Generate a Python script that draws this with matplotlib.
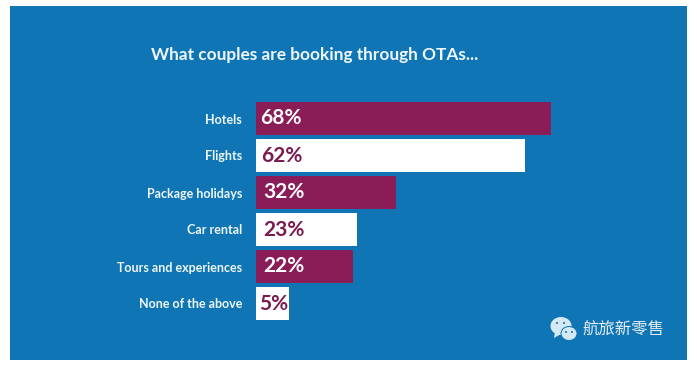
import matplotlib
matplotlib.use('Agg')
import matplotlib.pyplot as plt
from matplotlib.patches import Rectangle, Ellipse, Circle, Polygon

categories = ['Hotels', 'Flights', 'Package holidays', 'Car rental', 'Tours and experiences', 'None of the above']
# bar lengths as drawn, the last bar is longer than its 5% label
bar_lengths = [68, 62, 32.2, 23.2, 22.4, 7.5]
pct_labels = ['68%', '62%', '32%', '23%', '22%', '5%']
title = 'What couples are booking through OTAs...'
watermark = '航旅新零售'

W, H = 697, 368
BLUE = '#0F75B5'
PURPLE = '#8A1D57'
WHITE = '#FFFFFF'
DARK = '#7A1A4E'
ICON = '#D5E9F5'

plt.rcParams['font.family'] = ['Lato', 'DejaVu Sans']

fig = plt.figure(figsize=(W / 100, H / 100), dpi=100, facecolor='white')

# pixel coordinates over the whole figure for panel, title, icon
bg = fig.add_axes([0, 0, 1, 1])
bg.set_xlim(0, W)
bg.set_ylim(H, 0)
bg.axis('off')
bg.add_patch(Rectangle((10, 6), 677, 354, color=BLUE, lw=0))
bg.text(151, 55, title, color='#EEF7FB', fontsize=12.45, fontweight='bold', va='center', ha='left')

# bars
ax = fig.add_axes([256 / W, 1 - 322 / H, 434 / W, 222 / H])
ax.patch.set_alpha(0)
ypos = list(range(len(categories)))
colors = [PURPLE if i % 2 == 0 else WHITE for i in ypos]
ax.barh(ypos, bar_lengths, height=0.91, color=colors)
ax.set_xlim(0, 100)
ax.set_ylim(5.5, -0.5)
ax.set_yticks(ypos)
ax.set_yticklabels(categories, color='#EEF7FB', fontsize=9, fontweight='bold')
ax.tick_params(axis='y', length=0, pad=10)
ax.set_xticks([])
for s in ax.spines.values():
    s.set_visible(False)

# value labels
label_x = [1.0, 1.2, 1.6, 1.6, 1.6, 0.8]
for i, lab in enumerate(pct_labels):
    col = WHITE if i % 2 == 0 else DARK
    ax.text(label_x[i], i, lab, color=col, fontsize=15, fontweight='bold', va='center', ha='left')

# wechat style mark + text
bg.add_patch(Ellipse((561, 326), 21, 18, color=ICON, lw=0))
bg.add_patch(Polygon([(555, 332), (554, 338), (561, 334)], color=ICON, lw=0))
bg.add_patch(Ellipse((569, 333.5), 17, 15, color=BLUE, lw=0))
bg.add_patch(Ellipse((569, 333.5), 15, 13, color=ICON, lw=0))
for (cx, cy) in [(557, 323), (564, 323), (566, 332), (572, 332)]:
    bg.add_patch(Circle((cx, cy), 1.1, color='#3A7FA8', lw=0))
bg.text(582.5, 330, watermark, family=['Noto Sans CJK SC', 'DejaVu Sans'], color='#E4EEF4', fontsize=11.8, va='center', ha='left')

fig.savefig('out.png', dpi=100, facecolor=fig.get_facecolor())
